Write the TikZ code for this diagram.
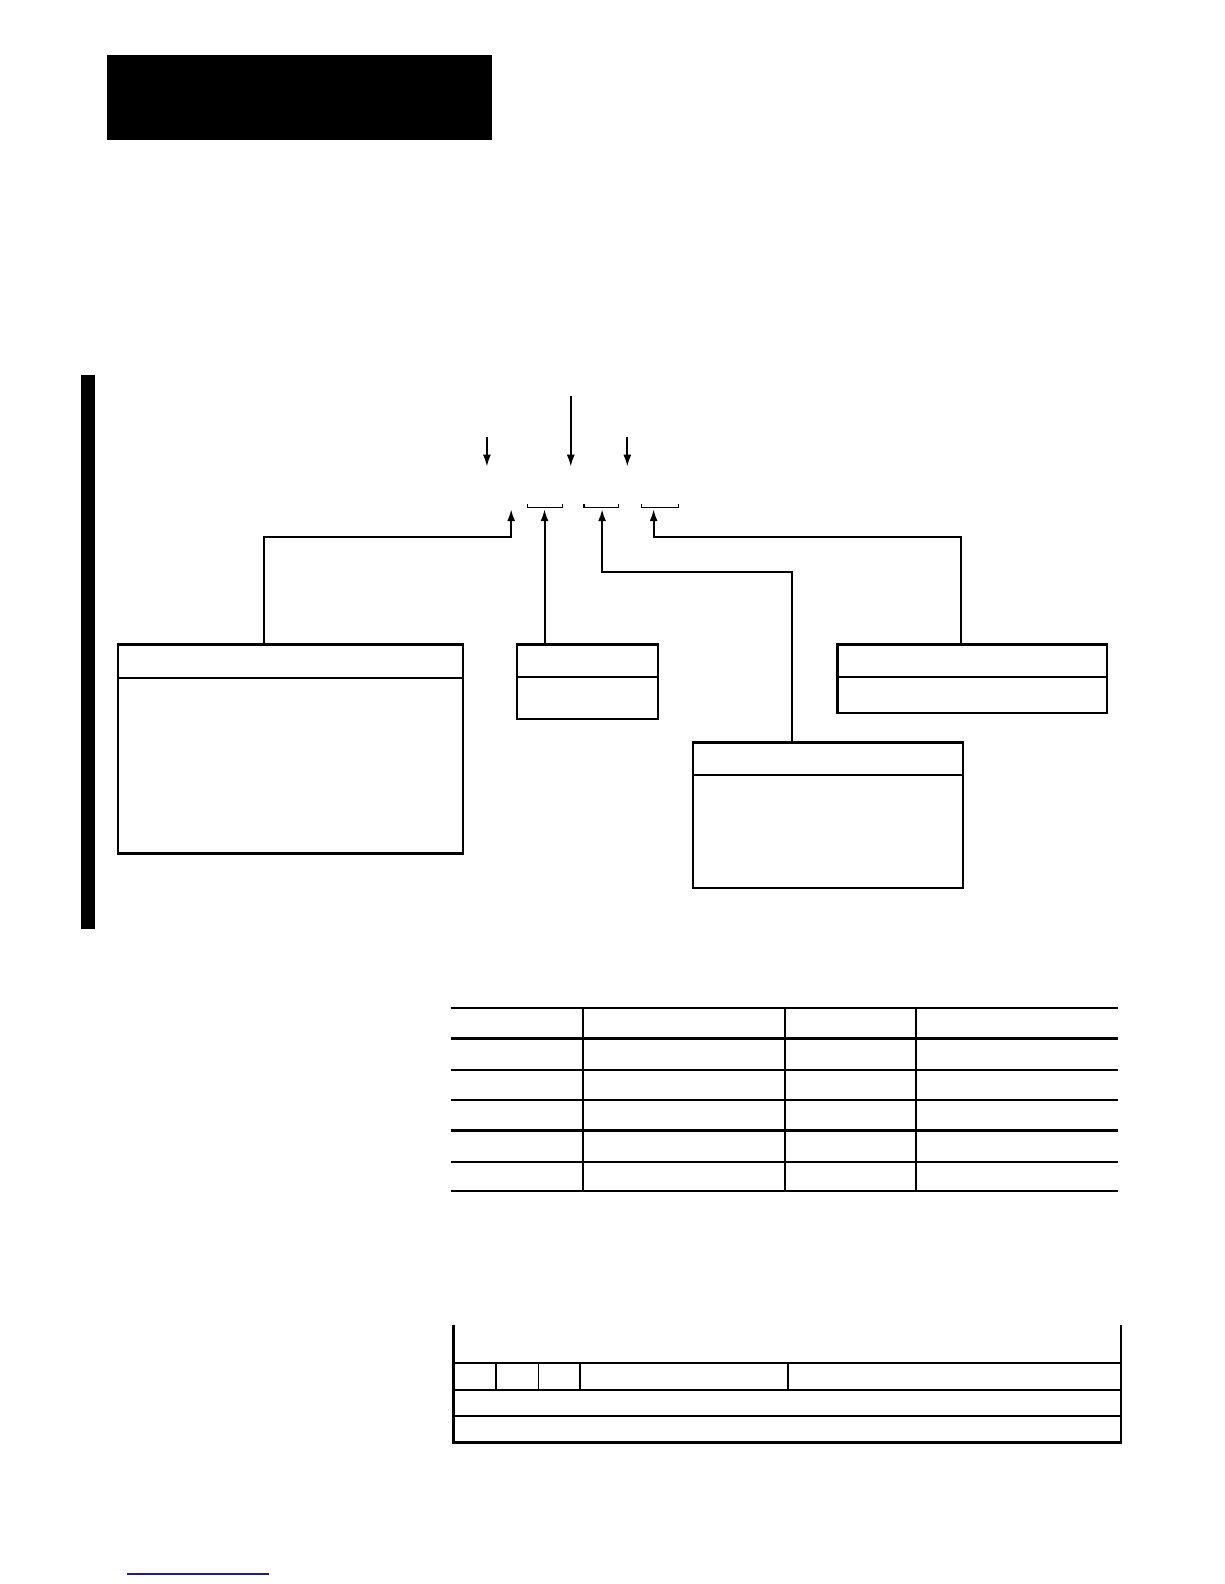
\documentclass[tikz,border=0pt]{standalone}
\usepackage{tikz}
\usetikzlibrary{arrows.meta,positioning,fit,calc}
\definecolor{linkblue}{HTML}{1C1C96}

\begin{document}
\begin{tikzpicture}[
x=0.505pt, y=-0.505pt,
fieldbox/.style={rectangle, draw, line width=1.15pt, inner sep=0pt},
feed/.style={-{Latex[length=6pt,width=4pt]}, line width=1pt},
tap/.style={line width=0.6pt},
rule/.style={line width=1.1pt},
thinrule/.style={line width=0.65pt}
]
\useasboundingbox (0,0) rectangle (1212,1568);

% --- Page furniture ---
\node (header) [fill=black, inner sep=0pt, fit={(106,54) (487,139)}] {};
\node (sidebar) [fill=black, inner sep=0pt, fit={(80,371) (94,920)}] {};

% --- Incoming arrows ---
\coordinate (in1) at (482,433); \coordinate (out1) at (482,462);
\coordinate (in2) at (565,392); \coordinate (out2) at (565,462);
\coordinate (in3) at (621,433); \coordinate (out3) at (621,462);
\draw [feed] (in1) -- (out1);
\draw [feed] (in2) -- (out2);
\draw [feed] (in3) -- (out3);

% --- Field brackets ---
\draw [tap] (522,499) -- (522,502) -- (557,502) -- (557,499);
\draw [tap] (578,499) -- (578,502) -- (612,502) -- (612,499);
\draw [tap] (635,499) -- (635,502) -- (672,502) -- (672,499);

% --- Description boxes ---
\node (opbox) [fieldbox, fit={(117,638) (458,845)}] {};
\node (srcbox) [fieldbox, fit={(512,638) (651,712)}] {};
\node (dstbox) [fieldbox, fit={(829,638) (1096,706)}] {};
\node (lenbox) [fieldbox, fit={(686,735) (953,879)}] {};
\draw [fieldbox] (opbox.west |- 0,671) -- (opbox.east |- 0,671);
\draw [fieldbox] (srcbox.west |- 0,670) -- (srcbox.east |- 0,670);
\draw [fieldbox] (dstbox.west |- 0,670) -- (dstbox.east |- 0,670);
\draw [fieldbox] (lenbox.west |- 0,767) -- (lenbox.east |- 0,767);

% --- Leaders to the fields ---
\coordinate (f0) at (506,504);
\coordinate (f1) at (539,504);
\coordinate (f2) at (596,504);
\coordinate (f3) at (647,504);
\coordinate (k0) at (261,532);
\coordinate (k2) at (784,566);
\coordinate (k3) at (951,532);
\draw [feed] (opbox.north -| k0) -- (k0) -| (f0);
\draw [feed] (srcbox.north -| f1) -- (f1);
\draw [feed] (lenbox.north -| k2) -- (k2) -| (f2);
\draw [feed] (dstbox.north -| k3) -- (k3) -| (f3);

% --- Table ---
\foreach \y in {998,1028,1059,1119,1150,1179}
  \draw [rule] (446,\y) -- (1107,\y);
\draw [thinrule] (446,1089) -- (1107,1089);
\foreach \x in {577,777,907}
  \draw [rule] (\x,998) -- (\x,1179);

% --- Record layout ---
\draw [rule] (449,1312) -- (449,1428) -- (1110,1428) -- (1110,1312);
\foreach \y in {1349,1376,1402}
  \draw [rule] (449,\y) -- (1110,\y);
\foreach \x in {491,533,574}
  \draw [thinrule] (\x,1349) -- (\x,1376);
\draw [rule] (780,1349) -- (780,1376);

% --- Footer link ---
\draw [linkblue, line width=1pt] (126,1558) -- (266,1558);

\end{tikzpicture}
\end{document}
